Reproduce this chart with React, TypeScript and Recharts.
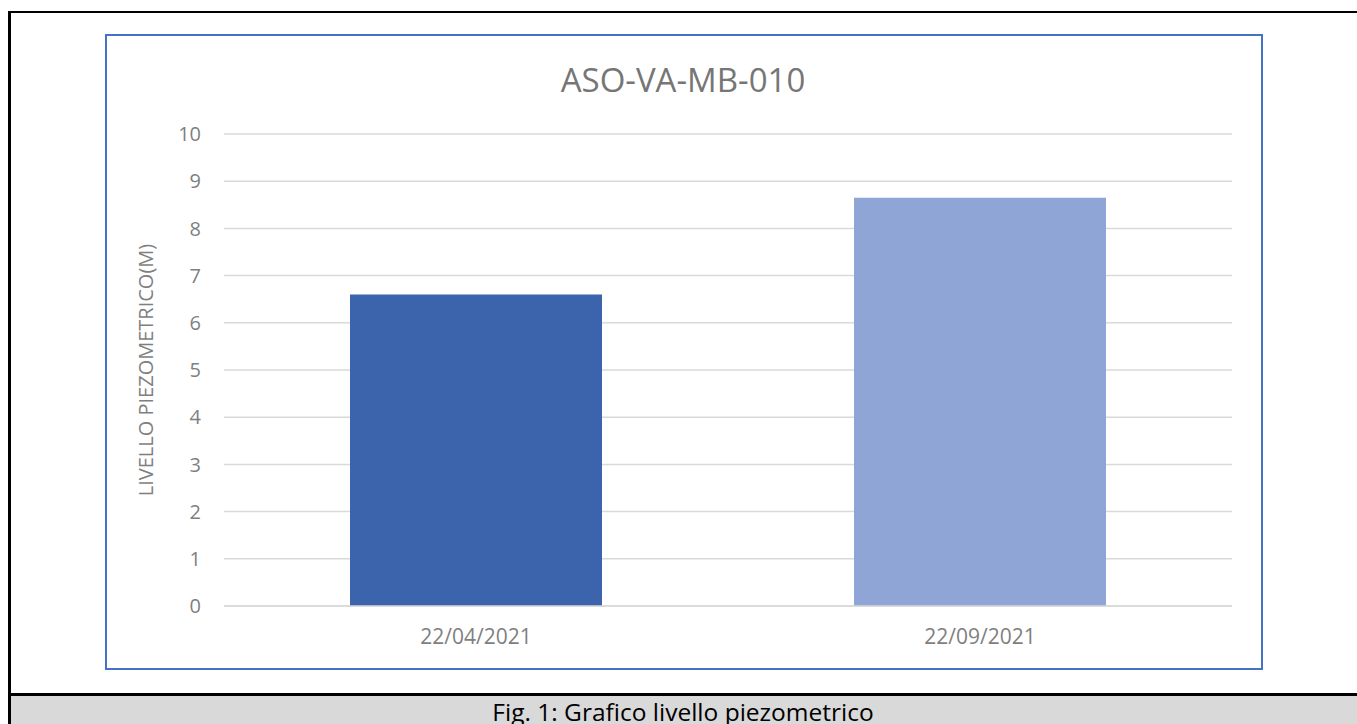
import React from 'react';
import { BarChart, Bar, XAxis, YAxis, CartesianGrid, Cell } from 'recharts';

const categories = ['22/04/2021', '22/09/2021'];
const levels = [6.6, 8.65];
const barColors = ['#3B64AD', '#8FA5D5'];
const yTicks = [0, 1, 2, 3, 4, 5, 6, 7, 8, 9, 10];
const chartTitle = 'ASO-VA-MB-010';
const yLabel = 'LIVELLO PIEZOMETRICO(M)';
const caption = 'Fig. 1: Grafico livello piezometrico';

const data = categories.map((c, i) => ({ date: c, value: levels[i] }));

const FONT = '"Open Sans", sans-serif';

export default function App() {
  return (
    <div style={{ position: 'fixed', left: 0, top: 0, width: 1357, height: 724, overflow: 'hidden', background: '#fff', fontFamily: FONT }}>
      {/* outer frame */}
      <div style={{ position: 'absolute', left: 8, top: 11, width: 1400, height: 800, borderLeft: '3px solid #000', borderTop: '2.5px solid #000', boxSizing: 'border-box' }} />
      <div style={{ position: 'absolute', left: 11, top: 695, width: 1400, height: 40, background: '#D9D9D9' }} />
      <div style={{ position: 'absolute', left: 8, top: 693, width: 1400, height: 2.5, background: '#000' }} />
      {/* chart frame */}
      <div style={{ position: 'absolute', left: 105, top: 34, width: 1158, height: 636, border: '2px solid #4472C4', boxSizing: 'border-box' }} />
      <svg style={{ position: 'absolute', left: 0, top: 0 }} width={1357} height={724}>
        <text x={683} y={92} textAnchor="middle" fontFamily={FONT} fontSize={33} fill="#767676">{chartTitle}</text>
        <text x={683} y={721} textAnchor="middle" fontFamily={FONT} fontSize={24.5} fill="#000">{caption}</text>
      </svg>
      <div style={{ position: 'absolute', left: 0, top: 0 }}>
        <BarChart
          width={1357}
          height={724}
          data={data}
          margin={{ top: 134, right: 125, left: 144, bottom: 88 }}
          barCategoryGap="25%"
        >
          <CartesianGrid vertical={false} stroke="#D9D9D9" strokeWidth={1.5} />
          <XAxis
            dataKey="date"
            height={30}
            axisLine={{ stroke: '#D9D9D9', strokeWidth: 1.5 }}
            tickLine={false}
            tickMargin={17}
            tick={{ fill: '#7F7F7F', fontSize: 21, fontFamily: FONT }}
          />
          <YAxis
            width={80}
            domain={[0, 10]}
            ticks={yTicks}
            interval={0}
            axisLine={false}
            tickLine={false}
            tickMargin={17}
            tick={{ fill: '#7F7F7F', fontSize: 20, fontFamily: FONT }}
            label={{ value: yLabel, angle: -90, position: 'insideLeft', offset: 2, textAnchor: 'middle', fill: '#7F7F7F', fontSize: 20, fontFamily: FONT }}
          />
          <Bar dataKey="value" isAnimationActive={false}>
            {data.map((d, i) => (
              <Cell key={d.date} fill={barColors[i]} />
            ))}
          </Bar>
        </BarChart>
      </div>
    </div>
  );
}
